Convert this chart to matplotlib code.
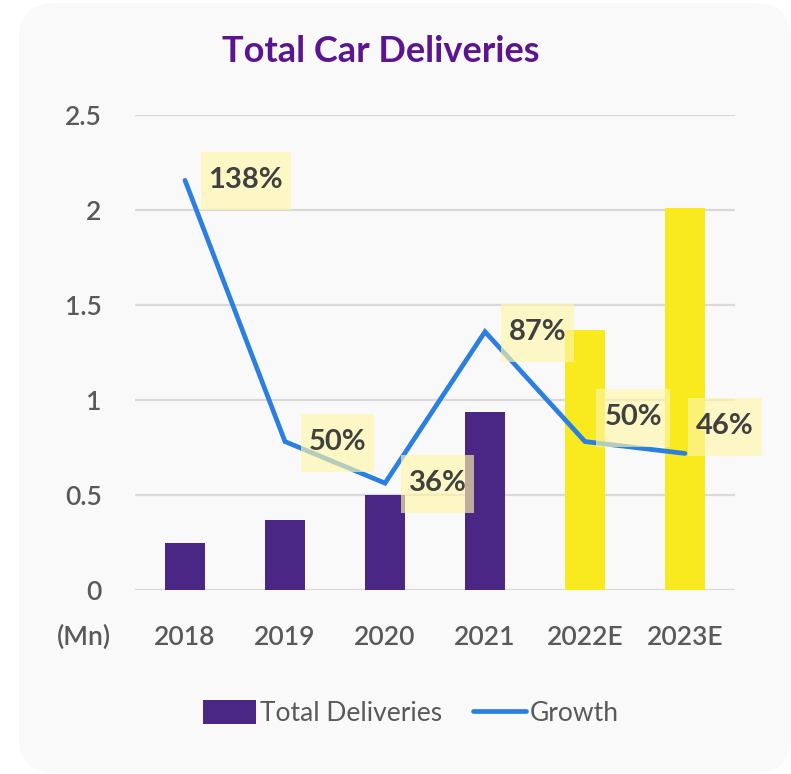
import matplotlib
matplotlib.use('Agg')
import matplotlib.pyplot as plt
from matplotlib.patches import FancyBboxPatch, Rectangle
from matplotlib.transforms import IdentityTransform
import numpy as np

# data
years = ['2018', '2019', '2020', '2021', '2022E', '2023E']
deliveries = [0.245, 0.367, 0.50, 0.936, 1.37, 2.01]   # million cars
growth = [138, 50, 36, 87, 50, 46]                      # % yoy
estimate = [False, False, False, False, True, True]

purple = '#4b2785'
yellow = '#f9ea1f'
blue = '#2b7fe0'
grey_txt = '#595959'

plt.rcParams['font.family'] = ['Lato', 'DejaVu Sans']

fig = plt.figure(figsize=(7.91, 7.74), dpi=100)
fig.patch.set_facecolor('white')

# rounded light grey card behind everything
card = FancyBboxPatch((19 / 791, 1 - 773 / 774), (790 - 19) / 791, (773 - 3) / 774,
                      boxstyle='round,pad=0,rounding_size=0.045', transform=fig.transFigure,
                      facecolor='#f9f9f9', edgecolor='none', zorder=-5)
fig.patches.append(card)

ax = fig.add_axes([135 / 791, 1 - 590 / 774, 600 / 791, 475 / 774])
ax.set_facecolor('none')
x = np.arange(len(years))
colors = [yellow if e else purple for e in estimate]
bars = ax.bar(x, deliveries, width=0.4, color=colors, zorder=2, label='Total Deliveries')

ax.set_xlim(-0.5, len(years) - 0.5)
ax.set_ylim(0, 2.5)
ax.set_yticks([0, 0.5, 1, 1.5, 2, 2.5])
ax.set_yticklabels(['0', '0.5', '1', '1.5', '2', '2.5'])
ax.set_xticks(x)
ax.set_xticklabels(years)
ax.yaxis.grid(True, color='#d9d9d9', lw=1.6, zorder=0)
ax.set_axisbelow(True)
for s in ax.spines.values():
    s.set_visible(False)
ax.tick_params(length=0, labelsize=19, labelcolor=grey_txt, pad=24)
ax.tick_params(axis='x', pad=25)
for lab in ax.get_xticklabels() + ax.get_yticklabels():
    lab.set_fontweight('semibold')

# growth on a hidden secondary scale
ax2 = ax.twinx()
ax2.set_ylim(0, 160)
ax2.axis('off')
line, = ax2.plot(x, growth, color=blue, lw=3.4, solid_capstyle='round',
                 solid_joinstyle='miter', zorder=3, label='Growth')

# data labels with light yellow boxes (offsets in points)
dx = [17, 17, 17, 17, 14, 8]
dy = [0, 0, 0, 0, 18, 20]
texts = []
for i, g in enumerate(growth):
    t = ax2.annotate(f'{g}%', (x[i], g), xytext=(dx[i], dy[i]), textcoords='offset points',
                     ha='left', va='center', fontsize=21, fontweight='bold',
                     color='#404040', zorder=6, annotation_clip=False)
    texts.append(t)

fig.canvas.draw()
r = fig.canvas.get_renderer()
for t in texts:
    bb = t.get_window_extent(r)
    rect = Rectangle((bb.x0 - 8, bb.y0 - 17), bb.width + 16, bb.height + 32,
                     transform=IdentityTransform(), facecolor='#fff6a8', alpha=0.65,
                     edgecolor='none', zorder=5, clip_on=False)
    ax2.add_artist(rect)
    rect.set_clip_on(False)

fig.text(381 / 791, 1 - 52 / 774, 'Total Car Deliveries', ha='center', va='center',
         fontsize=26, fontweight='bold', color='#5b1590')
fig.text(84 / 791, 1 - 637 / 774, '(Mn)', ha='center', va='center',
         fontsize=19, fontweight='semibold', color=grey_txt)

leg = fig.legend(handles=[bars, line], loc='center', bbox_to_anchor=(411 / 791, 1 - 713 / 774),
                 ncol=2, frameon=False, fontsize=19, handlelength=2.0, handleheight=1.0,
                 handletextpad=0.15, columnspacing=1.2, labelcolor=grey_txt)

fig.savefig('out.png', dpi=100)
